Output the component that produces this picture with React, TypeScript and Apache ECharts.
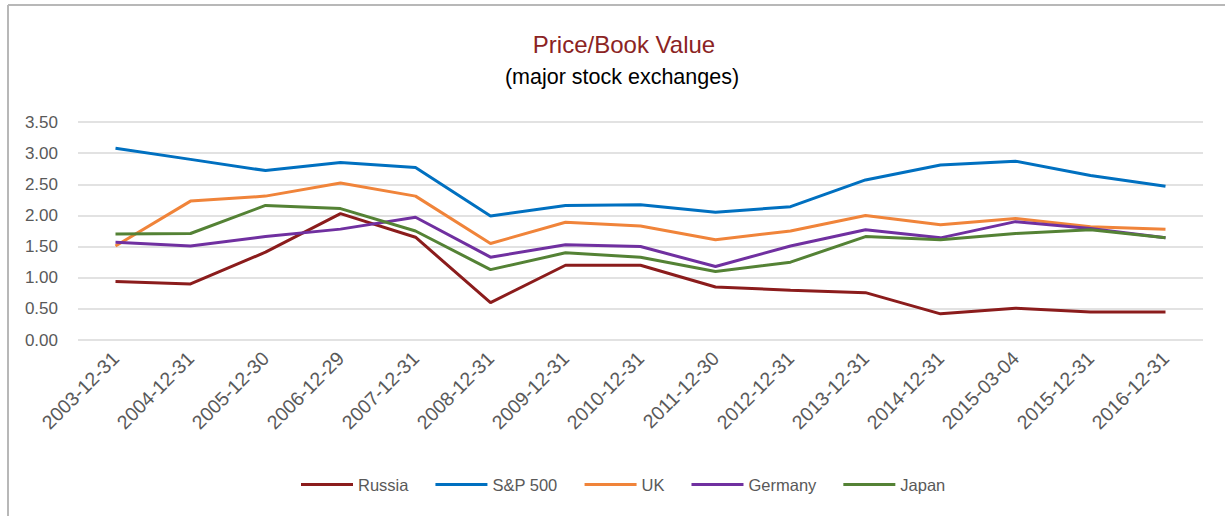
import React, { useEffect, useRef } from "react";
import * as echarts from "echarts";

const categories = [
  "2003-12-31", "2004-12-31", "2005-12-30", "2006-12-29", "2007-12-31",
  "2008-12-31", "2009-12-31", "2010-12-31", "2011-12-30", "2012-12-31",
  "2013-12-31", "2014-12-31", "2015-03-04", "2015-12-31", "2016-12-31",
];
const russia = [0.94, 0.9, 1.41, 2.03, 1.65, 0.6, 1.2, 1.2, 0.85, 0.8, 0.76, 0.42, 0.51, 0.45, 0.45];
const sp500 = [3.08, 2.9, 2.72, 2.85, 2.77, 1.99, 2.16, 2.17, 2.05, 2.14, 2.57, 2.81, 2.87, 2.64, 2.47];
const uk = [1.51, 2.23, 2.31, 2.52, 2.31, 1.55, 1.89, 1.83, 1.61, 1.75, 2.0, 1.85, 1.95, 1.82, 1.78];
const germany = [1.57, 1.51, 1.66, 1.78, 1.97, 1.33, 1.53, 1.5, 1.18, 1.51, 1.77, 1.64, 1.9, 1.79, 1.64];
const japan = [1.7, 1.71, 2.16, 2.11, 1.75, 1.13, 1.4, 1.33, 1.1, 1.25, 1.66, 1.61, 1.71, 1.77, 1.64];

const seriesDefs = [
  { name: "Russia", data: russia, color: "#8B1C1C" },
  { name: "S&P 500", data: sp500, color: "#0070C0" },
  { name: "UK", data: uk, color: "#F0843A" },
  { name: "Germany", data: germany, color: "#7030A0" },
  { name: "Japan", data: japan, color: "#548235" },
];

const FONT = "'Liberation Sans', Arial, sans-serif";

export default function App() {
  const ref = useRef<HTMLDivElement>(null);
  useEffect(() => {
    if (!ref.current) return;
    const chart = echarts.init(ref.current, null, { renderer: "svg" });
    chart.setOption({
      animation: false,
      backgroundColor: "#ffffff",
      textStyle: { fontFamily: FONT },
      title: [
        {
          text: "Price/Book Value",
          left: 619,
          top: 27,
          textAlign: "center",
          textStyle: { color: "#8B2323", fontSize: 24, fontWeight: "normal", fontFamily: FONT },
        },
        {
          text: "(major stock exchanges)",
          left: 617,
          top: 61,
          textAlign: "center",
          textStyle: { color: "#000000", fontSize: 21.5, fontWeight: "normal", fontFamily: FONT },
        },
      ],
      grid: { left: 78, right: 22, top: 122, bottom: 176, containLabel: false },
      legend: {
        left: 296,
        top: 471,
        itemWidth: 52,
        itemHeight: 3,
        itemGap: 27,
        icon: "rect",
        textStyle: { color: "#595959", fontSize: 16.5, fontFamily: FONT },
        data: seriesDefs.map((s) => s.name),
      },
      xAxis: {
        type: "category",
        data: categories,
        boundaryGap: true,
        axisLine: { show: false },
        axisTick: { show: false },
        axisLabel: { rotate: 45, fontSize: 19.5, color: "#595959", margin: 15, interval: 0, fontFamily: FONT },
      },
      yAxis: {
        type: "value",
        min: 0,
        max: 3.5,
        interval: 0.5,
        axisLine: { show: false },
        axisTick: { show: false },
        splitLine: { lineStyle: { color: "#d9d9d9", width: 1.5 } },
        axisLabel: {
          fontSize: 17,
          color: "#595959",
          margin: 20,
          fontFamily: FONT,
          formatter: (v: number) => v.toFixed(2),
        },
      },
      graphic: [
        { type: "line", shape: { x1: 8, y1: 5, x2: 1225, y2: 5 }, style: { stroke: "#b8b8b8", lineWidth: 2 } },
        { type: "line", shape: { x1: 8, y1: 5, x2: 8, y2: 516 }, style: { stroke: "#b8b8b8", lineWidth: 2 } },
      ],
      series: seriesDefs.map((s) => ({
        name: s.name,
        type: "line",
        data: s.data,
        symbol: "none",
        color: s.color,
        lineStyle: { color: s.color, width: 3 },
      })),
    });
    return () => chart.dispose();
  }, []);
  return (
    <div
      ref={ref}
      style={{ position: "fixed", left: 0, top: 0, width: 1225, height: 516 }}
    />
  );
}
